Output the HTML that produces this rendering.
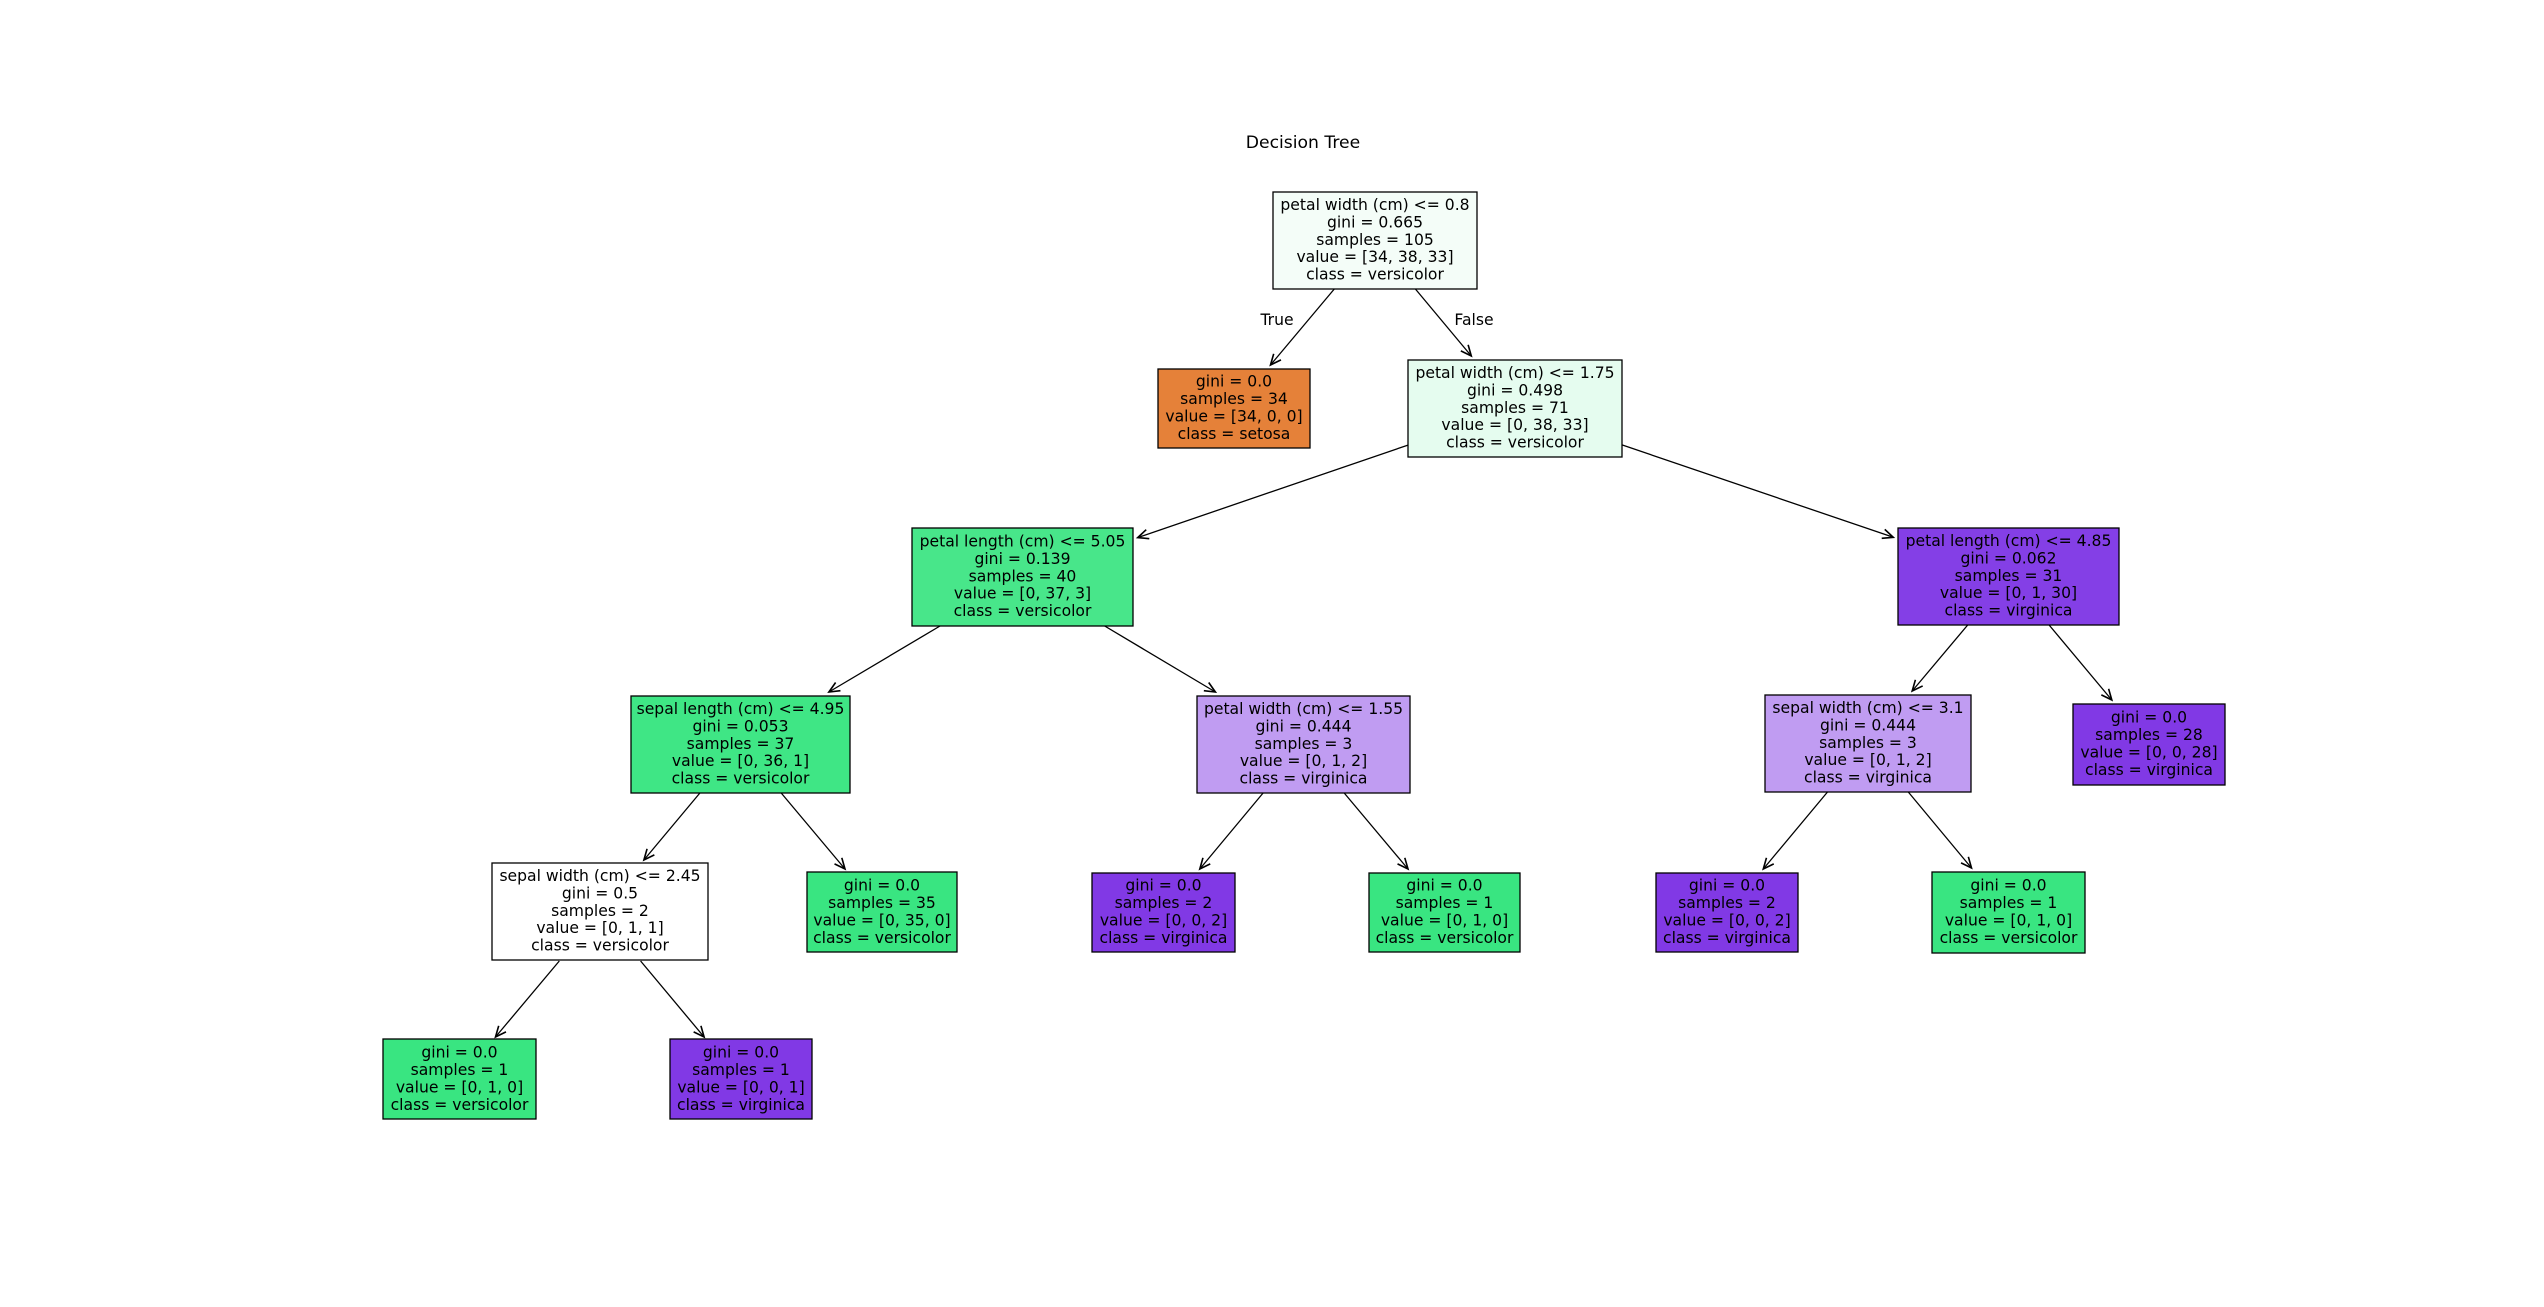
<!DOCTYPE html>
<html><head><meta charset="utf-8"><style>
html,body{margin:0;padding:0;background:#fff;}
svg{display:block;}
text{font-family:"DejaVu Sans","Liberation Sans",sans-serif;font-size:15.6px;fill:#000;text-anchor:middle;}
rect{stroke:#000;stroke-width:1.3;}
line{stroke:#000;stroke-width:1.3;}
</style></head><body>
<svg width="2544" height="1307" viewBox="0 0 2544 1307" xmlns="http://www.w3.org/2000/svg">
<defs>
<marker id="ah" markerUnits="userSpaceOnUse" markerWidth="20" markerHeight="20" refX="0" refY="0" viewBox="-12 -8 14 16" orient="auto">
<path d="M-8.5,-3.8 L0,0 L-8.5,3.8" fill="none" stroke="#000" stroke-width="1.3"/>
</marker>
</defs>
<text x="1303" y="148" style="font-size:17.2px">Decision Tree</text>
<text x="1277" y="325">True</text>
<text x="1474" y="325">False</text>

<g marker-end="url(#ah)">
<line x1="1334.3" y1="289" x2="1270.5" y2="365"/>
<line x1="1415.4" y1="289" x2="1471.3" y2="356"/>
<line x1="1408" y1="445.1" x2="1137.7" y2="537.6"/>
<line x1="1622" y1="444.9" x2="1893.3" y2="537.3"/>
<line x1="940" y1="626" x2="828.9" y2="692"/>
<line x1="1104.7" y1="626" x2="1215.4" y2="692"/>
<line x1="1967.7" y1="625" x2="1912.2" y2="691"/>
<line x1="2049.1" y1="625" x2="2111.8" y2="700"/>
<line x1="699.9" y1="793" x2="643.9" y2="860"/>
<line x1="781.2" y1="793" x2="845" y2="869"/>
<line x1="1263.1" y1="793" x2="1199.8" y2="869"/>
<line x1="1344.2" y1="793" x2="1408" y2="869"/>
<line x1="1827.5" y1="792" x2="1763.3" y2="869"/>
<line x1="1908.3" y1="792" x2="1971.5" y2="868"/>
<line x1="559.3" y1="961" x2="495.5" y2="1037"/>
<line x1="640.6" y1="961" x2="704.1" y2="1037"/>
</g>

<rect x="1273" y="192" width="204" height="97" fill="#f4fdf8"/>
<text x="1375" y="210">petal width (cm) &lt;= 0.8</text>
<text x="1375" y="227.4">gini = 0.665</text>
<text x="1375" y="244.8">samples = 105</text>
<text x="1375" y="262.2">value = [34, 38, 33]</text>
<text x="1375" y="279.6">class = versicolor</text>

<rect x="1158" y="369" width="152" height="79" fill="#e58139"/>
<text x="1234" y="386.7">gini = 0.0</text>
<text x="1234" y="404.1">samples = 34</text>
<text x="1234" y="421.5">value = [34, 0, 0]</text>
<text x="1234" y="438.9">class = setosa</text>

<rect x="1408" y="360" width="214" height="97" fill="#e5fcef"/>
<text x="1515" y="378">petal width (cm) &lt;= 1.75</text>
<text x="1515" y="395.4">gini = 0.498</text>
<text x="1515" y="412.8">samples = 71</text>
<text x="1515" y="430.2">value = [0, 38, 33]</text>
<text x="1515" y="447.6">class = versicolor</text>

<rect x="912" y="528" width="221" height="98" fill="#48e68a"/>
<text x="1022.5" y="546.5">petal length (cm) &lt;= 5.05</text>
<text x="1022.5" y="563.9">gini = 0.139</text>
<text x="1022.5" y="581.3">samples = 40</text>
<text x="1022.5" y="598.7">value = [0, 37, 3]</text>
<text x="1022.5" y="616.1">class = versicolor</text>

<rect x="1898" y="528" width="221" height="97" fill="#843fe6"/>
<text x="2008.5" y="546">petal length (cm) &lt;= 4.85</text>
<text x="2008.5" y="563.4">gini = 0.062</text>
<text x="2008.5" y="580.8">samples = 31</text>
<text x="2008.5" y="598.2">value = [0, 1, 30]</text>
<text x="2008.5" y="615.6">class = virginica</text>

<rect x="631" y="696" width="219" height="97" fill="#3fe685"/>
<text x="740.5" y="714">sepal length (cm) &lt;= 4.95</text>
<text x="740.5" y="731.4">gini = 0.053</text>
<text x="740.5" y="748.8">samples = 37</text>
<text x="740.5" y="766.2">value = [0, 36, 1]</text>
<text x="740.5" y="783.6">class = versicolor</text>

<rect x="1197" y="696" width="213" height="97" fill="#c09cf2"/>
<text x="1303.5" y="714">petal width (cm) &lt;= 1.55</text>
<text x="1303.5" y="731.4">gini = 0.444</text>
<text x="1303.5" y="748.8">samples = 3</text>
<text x="1303.5" y="766.2">value = [0, 1, 2]</text>
<text x="1303.5" y="783.6">class = virginica</text>

<rect x="1765" y="695" width="206" height="97" fill="#c09cf2"/>
<text x="1868" y="713">sepal width (cm) &lt;= 3.1</text>
<text x="1868" y="730.4">gini = 0.444</text>
<text x="1868" y="747.8">samples = 3</text>
<text x="1868" y="765.2">value = [0, 1, 2]</text>
<text x="1868" y="782.6">class = virginica</text>

<rect x="2073" y="704" width="152" height="81" fill="#8139e5"/>
<text x="2149" y="722.7">gini = 0.0</text>
<text x="2149" y="740.1">samples = 28</text>
<text x="2149" y="757.5">value = [0, 0, 28]</text>
<text x="2149" y="774.9">class = virginica</text>

<rect x="492" y="863" width="216" height="97" fill="#ffffff"/>
<text x="600" y="881">sepal width (cm) &lt;= 2.45</text>
<text x="600" y="898.4">gini = 0.5</text>
<text x="600" y="915.8">samples = 2</text>
<text x="600" y="933.2">value = [0, 1, 1]</text>
<text x="600" y="950.6">class = versicolor</text>

<rect x="807" y="872" width="150" height="80" fill="#39e581"/>
<text x="882" y="890.7">gini = 0.0</text>
<text x="882" y="908.1">samples = 35</text>
<text x="882" y="925.5">value = [0, 35, 0]</text>
<text x="882" y="942.9">class = versicolor</text>

<rect x="1092" y="873" width="143" height="79" fill="#8139e5"/>
<text x="1163.5" y="890.7">gini = 0.0</text>
<text x="1163.5" y="908.1">samples = 2</text>
<text x="1163.5" y="925.5">value = [0, 0, 2]</text>
<text x="1163.5" y="942.9">class = virginica</text>

<rect x="1369" y="873" width="151" height="79" fill="#39e581"/>
<text x="1444.5" y="890.7">gini = 0.0</text>
<text x="1444.5" y="908.1">samples = 1</text>
<text x="1444.5" y="925.5">value = [0, 1, 0]</text>
<text x="1444.5" y="942.9">class = versicolor</text>

<rect x="1656" y="873" width="142" height="79" fill="#8139e5"/>
<text x="1727" y="890.7">gini = 0.0</text>
<text x="1727" y="908.1">samples = 2</text>
<text x="1727" y="925.5">value = [0, 0, 2]</text>
<text x="1727" y="942.9">class = virginica</text>

<rect x="1932" y="872" width="153" height="81" fill="#39e581"/>
<text x="2008.5" y="890.7">gini = 0.0</text>
<text x="2008.5" y="908.1">samples = 1</text>
<text x="2008.5" y="925.5">value = [0, 1, 0]</text>
<text x="2008.5" y="942.9">class = versicolor</text>

<rect x="383" y="1039" width="153" height="80" fill="#39e581"/>
<text x="459.5" y="1057.7">gini = 0.0</text>
<text x="459.5" y="1075.1">samples = 1</text>
<text x="459.5" y="1092.5">value = [0, 1, 0]</text>
<text x="459.5" y="1109.9">class = versicolor</text>

<rect x="670" y="1039" width="142" height="80" fill="#8139e5"/>
<text x="741" y="1057.7">gini = 0.0</text>
<text x="741" y="1075.1">samples = 1</text>
<text x="741" y="1092.5">value = [0, 0, 1]</text>
<text x="741" y="1109.9">class = virginica</text>
</svg>
</body></html>
